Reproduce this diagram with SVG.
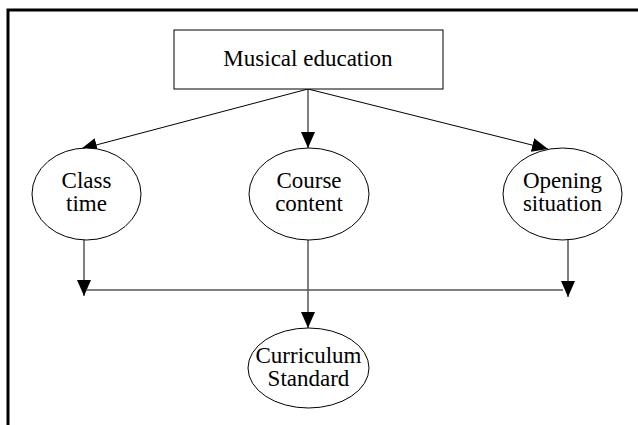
<svg xmlns="http://www.w3.org/2000/svg" width="638" height="425" viewBox="0 0 638 425">
<style>
.shape{fill:#fff;stroke:#000;stroke-width:1}
.lbl{font-family:"Liberation Serif","Times New Roman",serif;font-size:23px;fill:#000;text-anchor:middle}
.edge{fill:none;stroke:#000;stroke-width:1}
.bus{fill:none;stroke:#555;stroke-width:1.3}
.frame{fill:none;stroke:#000;stroke-width:3}
</style>
<defs>
<marker id="arr" markerUnits="userSpaceOnUse" markerWidth="16" markerHeight="14" refX="16" refY="7" orient="auto">
<path d="M0,0 L16,7 L0,14 Z" fill="#000"/>
</marker>
</defs>
<rect width="638" height="425" fill="#fff"/>
<path class="frame" d="M8,425 V10 H638"/>
<g id="connectors">
<line class="edge" x1="308" y1="89" x2="81" y2="149" marker-end="url(#arr)"/>
<line class="edge" x1="308" y1="89" x2="308" y2="148" marker-end="url(#arr)"/>
<line class="edge" x1="308" y1="89" x2="548" y2="149" marker-end="url(#arr)"/>
<line class="edge" x1="84" y1="240" x2="84" y2="296" marker-end="url(#arr)"/>
<line class="edge" x1="568" y1="240" x2="568" y2="297" marker-end="url(#arr)"/>
<line class="edge" x1="308" y1="240" x2="308" y2="328" marker-end="url(#arr)"/>
<line class="bus" x1="86" y1="290" x2="563" y2="290"/>
</g>
<g id="musical-education">
<rect class="shape" x="174" y="30" width="269" height="59"/>
<text class="lbl" x="308" y="66">Musical education</text>
</g>
<g id="class-time">
<ellipse class="shape" cx="86.5" cy="194" rx="54.5" ry="46"/>
<text class="lbl" x="86.5" y="188">Class</text>
<text class="lbl" x="86.5" y="211">time</text>
</g>
<g id="course-content">
<ellipse class="shape" cx="309" cy="194" rx="60" ry="46"/>
<text class="lbl" x="309" y="188">Course</text>
<text class="lbl" x="309" y="211">content</text>
</g>
<g id="opening-situation">
<ellipse class="shape" cx="562.5" cy="194" rx="59.5" ry="46"/>
<text class="lbl" x="562.5" y="188">Opening</text>
<text class="lbl" x="562.5" y="211">situation</text>
</g>
<g id="curriculum-standard">
<ellipse class="shape" cx="308.5" cy="368" rx="60.5" ry="40"/>
<text class="lbl" x="308.5" y="363">Curriculum</text>
<text class="lbl" x="308.5" y="386">Standard</text>
</g>
</svg>
